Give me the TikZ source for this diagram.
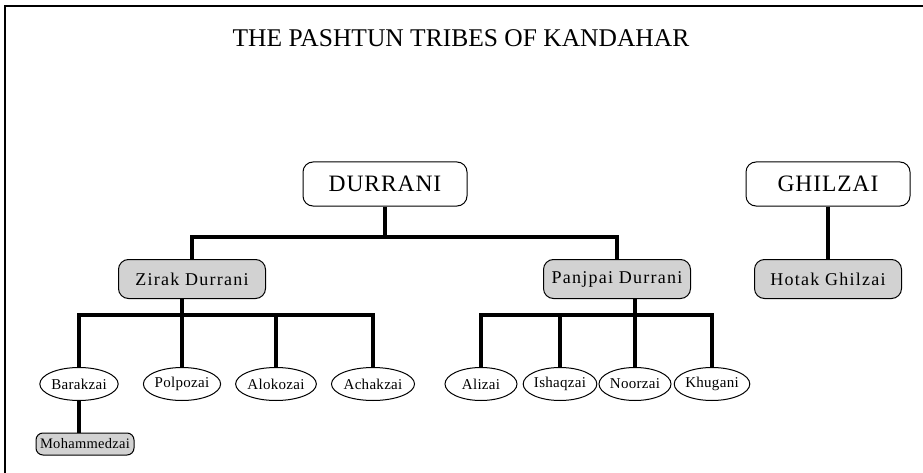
\documentclass[tikz,border=0pt]{standalone}
\usepackage{fontspec}
\setmainfont{Liberation Serif}
\usetikzlibrary{shapes.geometric}
\definecolor{boxgray}{HTML}{D2D2D2}
\tikzset{
  topbox/.style={draw, line width=1pt, rounded corners=10pt, minimum width=164pt, minimum height=44pt, inner sep=0pt, font=\fontsize{23.5}{26}\selectfont\addfontfeatures{LetterSpace=4}},
  midbox/.style={draw, line width=1pt, fill=boxgray, rounded corners=10pt, minimum width=147pt, minimum height=39pt, inner sep=0pt, font=\fontsize{18}{20}\selectfont\addfontfeatures{LetterSpace=7}},
  leaf/.style={draw, line width=1pt, ellipse, minimum width=71pt, minimum height=33pt, inner sep=0pt, font=\fontsize{15}{17}\selectfont\addfontfeatures{LetterSpace=2}},
  subbox/.style={draw, line width=1pt, fill=boxgray, rounded corners=7pt, minimum width=98pt, minimum height=22pt, inner sep=1pt, font=\fontsize{14.5}{17}\selectfont\addfontfeatures{LetterSpace=2}},
  conn/.style={line width=3.5pt},
  frame/.style={line width=2.2pt}
}
\begin{document}
\begin{tikzpicture}[x=1pt,y=-1pt]
\useasboundingbox (0,0) rectangle (923,473);
\draw[frame] (5,473) -- (5,6) -- (923,6);
\node[anchor=base, font=\fontsize{25.5}{30}\selectfont] (title) at (461,47) {THE PASHTUN TRIBES OF KANDAHAR};
% top level
\node[topbox] (durrani) at (385,184) {DURRANI};
\node[topbox] (ghilzai) at (828,184) {GHILZAI};
% second level
\node[midbox] (zirak) at (192,279) {Zirak Durrani};
\node[midbox] (panjpai) at (617,279) {Panjpai Durrani};
\node[midbox] (hotak) at (828,279) {Hotak Ghilzai};
% leaves
\node[leaf] (barakzai) at (79,384) {Barakzai};
\node[leaf] (polpozai) at (182,384) {Polpozai};
\node[leaf] (alokozai) at (276,384) {Alokozai};
\node[leaf, minimum width=76pt] (achakzai) at (373,384) {Achakzai};
\node[leaf, minimum width=72pt] (alizai) at (481,384) {Alizai};
\node[leaf, minimum width=72pt] (ishaqzai) at (560,384) {Ishaqzai};
\node[leaf, minimum width=72pt] (noorzai) at (635,384) {Noorzai};
\node[leaf, minimum width=70pt] (khugani) at (712,384) {Khugani};
\node[subbox] (moh) at (85,444) {Mohammedzai};
% connectors
\coordinate (dj) at (385,237);
\coordinate (zb) at (182,315);
\coordinate (pb) at (635,315);
\draw[conn] (durrani.south) -- (dj);
\draw[conn] (zirak.north) |- (dj) -| (panjpai.north);
\draw[conn] (ghilzai.south) -- (hotak.north);
\draw[conn] (zirak.south -| polpozai.north) -- (polpozai.north);
\draw[conn] (barakzai.north) |- (zb) -| (achakzai.north);
\draw[conn] (alokozai.north) -- (alokozai.north |- zb);
\draw[conn] (panjpai.south -| noorzai.north) -- (noorzai.north);
\draw[conn] (alizai.north) |- (pb) -| (khugani.north);
\draw[conn] (ishaqzai.north) -- (ishaqzai.north |- pb);
\draw[conn] (barakzai.south) -- (barakzai.south |- moh.north);
\end{tikzpicture}
\end{document}
